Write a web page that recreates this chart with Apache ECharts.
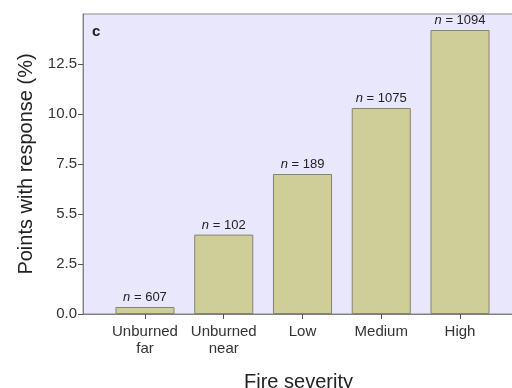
<!DOCTYPE html>
<html><head><meta charset="utf-8">
<script src="https://cdn.jsdelivr.net/npm/echarts@6/dist/echarts.min.js"></script>
<style>html,body{margin:0;padding:0;background:#fff}#c{width:512px;height:388px}</style>
</head><body><div id="c"></div>
<script>
const categories = ['Unburned\nfar', 'Unburned\nnear', 'Low', 'Medium', 'High'];
const values = [0.35, 3.97, 7.0, 10.3, 14.2];
const nCounts = ['607', '102', '189', '1075', '1094'];
const yTickLabels = ['0.0', '2.5', '5.5', '7.5', '10.0', '12.5'];

const font = 'Liberation Sans, Arial, sans-serif';
const chart = echarts.init(document.getElementById('c'));
chart.setOption({
  animation: false,
  grid: [
    {left: 83, right: -2, top: 14, bottom: 74, show: true, backgroundColor: '#e9e7fb', borderColor: '#8c8c8c', borderWidth: 1, containLabel: false, outerBoundsMode: 'none'},
    {left: 105.6, right: 12.6, top: 14, bottom: 74, containLabel: false, outerBoundsMode: 'none'}
  ],
  xAxis: [
    {gridIndex: 0, type: 'category', data: categories, axisLine: {show: true, lineStyle: {color: '#808080'}}, axisTick: {show: false}, axisLabel: {show: false},
     name: 'Fire severity', nameLocation: 'middle', nameGap: 58, nameTextStyle: {fontFamily: font, fontSize: 20, color: '#222'}},
    {gridIndex: 1, type: 'category', data: categories, axisLine: {show: false},
     axisTick: {show: true, alignWithLabel: true, length: 5, inside: false, lineStyle: {color: '#555'}},
     axisLabel: {fontFamily: font, fontSize: 15, color: '#333', margin: 9, lineHeight: 17, interval: 0}}
  ],
  yAxis: [
    {gridIndex: 0, type: 'value', min: 0, max: 15, interval: 2.5, splitLine: {show: false},
     axisLine: {show: true, lineStyle: {color: '#808080'}}, axisTick: {show: true, length: 5, lineStyle: {color: '#555'}},
     axisLabel: {fontFamily: font, fontSize: 15, color: '#333', margin: 6, showMaxLabel: false,
       formatter: v => { const i = Math.round(v / 2.5); return i < yTickLabels.length ? yTickLabels[i] : ''; }},
     name: 'Points with response (%)', nameLocation: 'middle', nameGap: 45, nameRotate: 90,
     nameTextStyle: {fontFamily: font, fontSize: 20, color: '#222'}},
    {gridIndex: 1, type: 'value', min: 0, max: 15, show: false}
  ],
  series: [{
    type: 'bar', xAxisIndex: 1, yAxisIndex: 1, barWidth: '75%',
    data: values,
    itemStyle: {color: '#cfcd98', borderColor: '#85856f', borderWidth: 1},
    label: {show: true, position: 'top', distance: 3,
      formatter: p => '{i|n} = ' + nCounts[p.dataIndex],
      fontFamily: font, fontSize: 13, color: '#222',
      rich: {i: {fontStyle: 'italic', fontFamily: font, fontSize: 13, color: '#222'}}}
  }],
  graphic: [{type: 'text', left: 92, top: 24, style: {text: 'c', font: 'bold 15px ' + font, fill: '#222'}}]
});
</script></body></html>
